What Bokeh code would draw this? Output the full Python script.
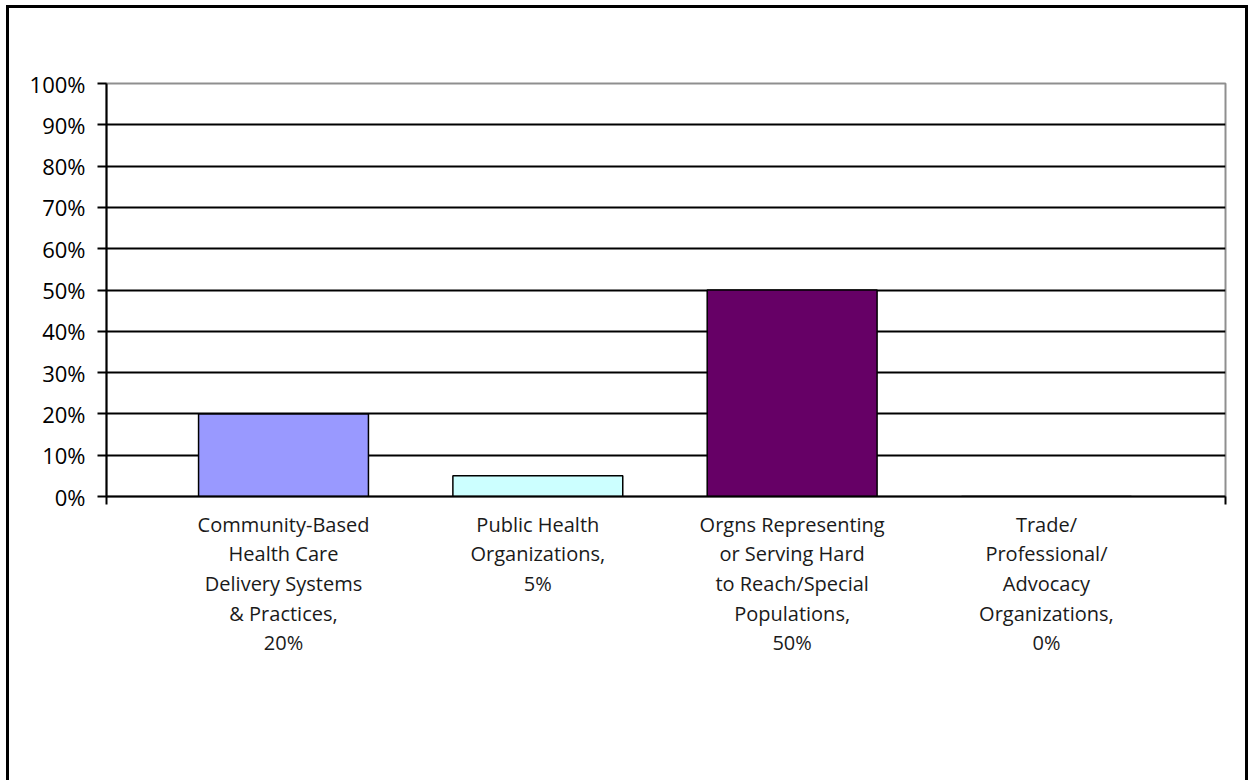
from bokeh.plotting import figure
from bokeh.models import ColumnDataSource, FixedTicker, Range1d, LinearAxis, CustomJSTickFormatter
from bokeh.embed import file_html
from bokeh.resources import INLINE

# ---- data ----
categories = [
    "Community-Based\nHealth Care\nDelivery Systems\n& Practices",
    "Public Health\nOrganizations",
    "Orgns Representing\nor Serving Hard\nto Reach/Special\nPopulations",
    "Trade/\nProfessional/\nAdvocacy\nOrganizations",
]
values = [20, 5, 50, 0]
colors = ["#9999FF", "#CCFFFF", "#660066", "#FFFFCC"]
y_ticks = [0, 10, 20, 30, 40, 50, 60, 70, 80, 90, 100]

FONT = "Open Sans"

idx = list(range(len(categories)))
src = ColumnDataSource(dict(x=idx, top=values, color=colors))

x0, x1 = -0.696, 3.704
p = figure(width=1242, height=775, output_backend="svg", toolbar_location=None,
           x_range=Range1d(x0, x1), y_range=Range1d(0, 100),
           min_border_left=97, min_border_top=75, min_border_right=26, min_border_bottom=287,
           title=None)
p.styles = {"box-sizing": "border-box", "margin-left": "6px", "margin-top": "5px",
            "border-left": "3px solid black", "border-top": "3px solid black",
            "border-right": "3px solid black"}

p.vbar(x="x", top="top", width=0.668, source=src, fill_color="color",
       line_color="black", line_width=1.5)

# y axis
p.yaxis.ticker = FixedTicker(ticks=y_ticks)
p.yaxis.formatter = CustomJSTickFormatter(code="return tick + '%';")
p.yaxis.axis_line_color = "black"
p.yaxis.axis_line_width = 2
p.yaxis.major_tick_line_width = 2
p.yaxis.major_tick_out = 9
p.yaxis.major_tick_in = 0
p.yaxis.minor_tick_line_color = None
p.yaxis.major_label_standoff = 12
p.yaxis.major_label_text_font = FONT
p.yaxis.major_label_text_font_size = "22px"
p.yaxis.major_label_text_color = "black"

# x axis: line + end ticks only
p.xaxis.ticker = FixedTicker(ticks=[x0, x1])
p.xaxis.major_label_overrides = {x0: "", x1: ""}
p.xaxis.major_label_text_font_size = "1px"
p.xaxis.major_label_standoff = 0
p.xaxis.axis_line_color = "black"
p.xaxis.axis_line_width = 2
p.xaxis.major_tick_line_width = 2
p.xaxis.major_tick_out = 8
p.xaxis.major_tick_in = 0
p.xaxis.minor_tick_line_color = None

# category label axis
cat_axis = LinearAxis(ticker=FixedTicker(ticks=idx),
                      major_label_overrides={i: f"{c},\n{v}%" for i, c, v in zip(idx, categories, values)})
cat_axis.axis_line_color = None
cat_axis.major_tick_line_color = None
cat_axis.minor_tick_line_color = None
cat_axis.major_tick_out = 0
cat_axis.major_tick_in = 0
cat_axis.major_label_standoff = 6
cat_axis.major_label_text_font = FONT
cat_axis.major_label_text_font_size = "20px"
cat_axis.major_label_text_color = "#1a1a1a"
cat_axis.major_label_text_line_height = 1.1
p.add_layout(cat_axis, "below")

# grid
p.xgrid.grid_line_color = None
p.ygrid.ticker = FixedTicker(ticks=y_ticks[1:-1])
p.ygrid.grid_line_color = "black"
p.ygrid.grid_line_width = 2

p.outline_line_color = "#8f8f8f"
p.outline_line_width = 2
p.background_fill_color = "white"
p.border_fill_color = "white"

open("out.html", "w").write(file_html(p, INLINE))
